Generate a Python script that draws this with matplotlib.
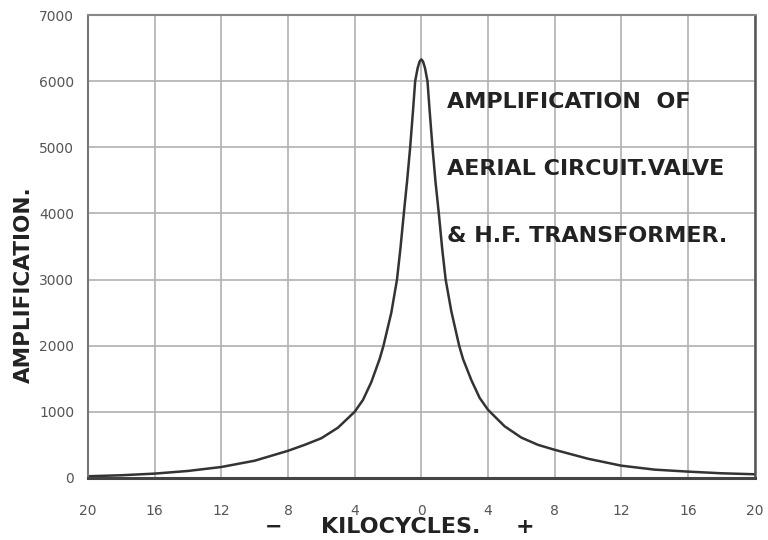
import matplotlib
matplotlib.use("Agg")
import matplotlib.pyplot as plt

# frequency offset from resonance (kilocycles) and amplification
khz = [-20, -18, -16, -14, -12, -10, -8, -7, -6, -5, -4, -3.5, -3, -2.5, -2.27,
       -1.8, -1.46, -1.25, -1.05, -0.85, -0.67, -0.5, -0.37, -0.22, -0.1, 0,
       0.1, 0.22, 0.37, 0.5, 0.67, 0.85, 1.05, 1.25, 1.46, 1.8, 2.27, 2.5, 3,
       3.5, 4, 5, 6, 7, 8, 10, 12, 14, 16, 18, 20]
amplification = [25, 40, 65, 105, 165, 260, 410, 500, 600, 760, 1000, 1180, 1450,
                 1800, 2000, 2500, 3000, 3480, 4000, 4500, 5000, 5550, 6000, 6200,
                 6300, 6330, 6300, 6200, 6000, 5550, 5000, 4480, 4000, 3470, 3000,
                 2520, 2000, 1800, 1480, 1210, 1030, 780, 610, 500, 425, 290, 185,
                 125, 95, 70, 55]

x_ticks = [-20, -16, -12, -8, -4, 0, 4, 8, 12, 16, 20]
x_tick_labels = ["20", "16", "12", "8", "4", "0", "4", "8", "12", "16", "20"]
y_ticks = [0, 1000, 2000, 3000, 4000, 5000, 6000, 7000]

note_lines = ["AMPLIFICATION  OF", "AERIAL CIRCUIT.VALVE", "& H.F. TRANSFORMER."]
note_y = [5680, 4670, 3660]

fig = plt.figure(figsize=(7.68, 5.4), dpi=100)
ax = fig.add_axes([0.1146, 0.115, 0.868, 0.857])

ax.plot(khz, amplification, color="#333333", linewidth=1.8, solid_joinstyle="round")

ax.set_xlim(-20, 20)
ax.set_ylim(0, 7000)
ax.set_xticks(x_ticks)
ax.set_xticklabels(x_tick_labels)
ax.set_yticks(y_ticks)
ax.set_yticklabels([str(v) for v in y_ticks])
ax.tick_params(length=0, labelsize=10, labelcolor="#555555")
ax.tick_params(axis="x", pad=19)
ax.tick_params(axis="y", pad=10)

ax.grid(True, color="#b0b0b0", linewidth=1.2)
ax.set_axisbelow(True)

ax.spines["left"].set_color("#777777")
ax.spines["left"].set_linewidth(1.5)
ax.spines["bottom"].set_color("#444444")
ax.spines["bottom"].set_linewidth(2.2)
ax.spines["top"].set_color("#888888")
ax.spines["top"].set_linewidth(1.5)
ax.spines["right"].set_color("#555555")
ax.spines["right"].set_linewidth(1.8)

# x axis label in three pieces, spaced out like the hand lettering
label_kw = dict(fontweight="bold", color="#222222", va="center", ha="center")
fig.text(274 / 768, 1 - 527 / 540, "\u2212", fontsize=15, **label_kw)
fig.text(401 / 768, 1 - 527 / 540, "KILOCYCLES.", fontsize=16, **label_kw)
fig.text(525 / 768, 1 - 527 / 540, "+", fontsize=16, **label_kw)

fig.text(24 / 768, 1 - 285 / 540, "AMPLIFICATION.", rotation=90, fontsize=15.5,
         fontweight="bold", color="#222222", va="center", ha="center")

for line, yv in zip(note_lines, note_y):
    ax.text(1.55, yv, line, fontsize=16, fontweight="bold", color="#222222", va="center", ha="left")

fig.savefig("out.png", dpi=100, facecolor="white")
